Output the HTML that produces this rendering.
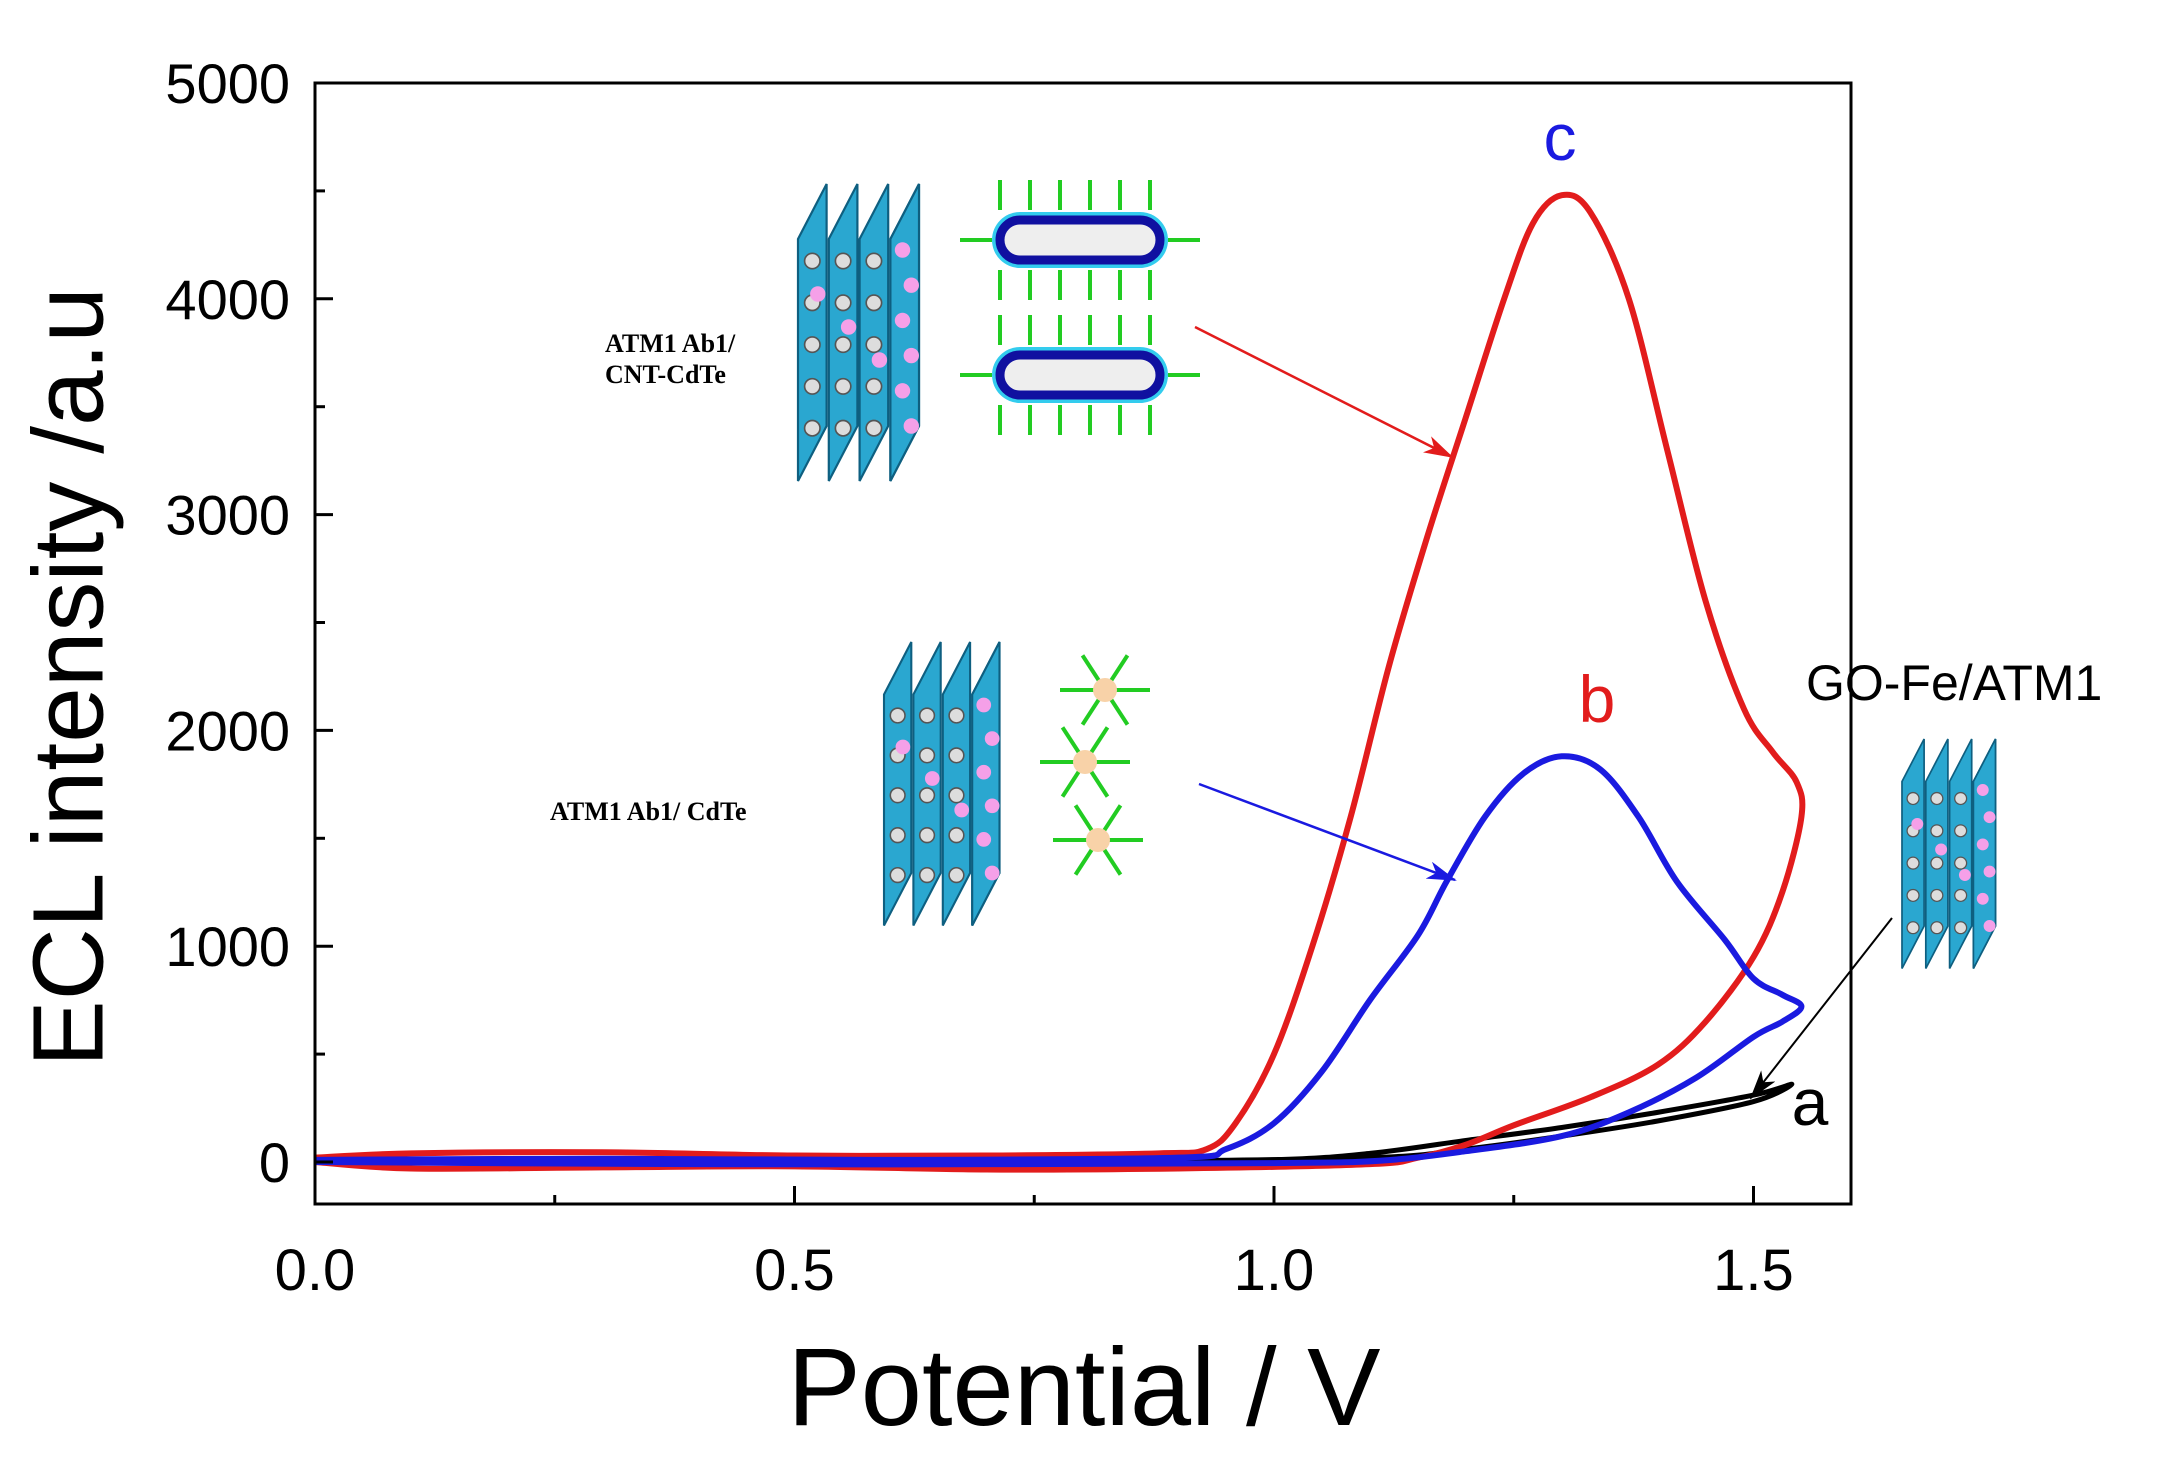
<!DOCTYPE html>
<html><head><meta charset="utf-8"><style>
html,body{margin:0;padding:0;background:#fff;}
svg{display:block;font-family:"Liberation Sans",sans-serif;}
</style></head><body>
<svg id="chart" width="2166" height="1457" viewBox="0 0 2166 1457" xmlns="http://www.w3.org/2000/svg">
<defs>
<marker id="arR" markerWidth="30" markerHeight="18" refX="28" refY="9" orient="auto" markerUnits="userSpaceOnUse"><path d="M0,0 L30,9 L0,18 L8,9 z" fill="#e21c1c"/></marker>
<marker id="arB" markerWidth="30" markerHeight="18" refX="28" refY="9" orient="auto" markerUnits="userSpaceOnUse"><path d="M0,0 L30,9 L0,18 L8,9 z" fill="#1a1ae0"/></marker>
<marker id="arK" markerWidth="30" markerHeight="18" refX="28" refY="9" orient="auto" markerUnits="userSpaceOnUse"><path d="M0,0 L30,9 L0,18 L8,9 z" fill="#000"/></marker>
<g id="slab"><polygon points="0,50 26,0 26,220 0,270" fill="#2aa7d0" stroke="#0e5f80" stroke-width="2"/></g>
</defs>
<g id="illus"></g>
<g id="series"></g>
<rect x="315" y="83" width="1536" height="1121" fill="none" stroke="#000" stroke-width="3"/>
<g id="axes"></g>
<text x="76" y="677" font-size="100" text-anchor="middle" transform="rotate(-90 76 677)" dominant-baseline="middle">ECL intensity /a.u</text>
<text x="1084" y="1425" font-size="110" text-anchor="middle">Potential / V</text>
<text x="1560" y="160" font-size="66" fill="#1a1ae0" text-anchor="middle">c</text>
<text x="1597" y="722" font-size="66" fill="#e21c1c" text-anchor="middle">b</text>
<text x="1810" y="1125" font-size="66" fill="#000" text-anchor="middle">a</text>
<text x="1806" y="700" font-size="50" fill="#000">GO-Fe/ATM1</text>
<g font-family="Liberation Serif,serif" font-weight="bold" font-size="26">
<text x="605" y="352">ATM1 Ab1/</text>
<text x="605" y="383">CNT-CdTe</text>
<text x="550" y="820">ATM1 Ab1/ CdTe</text>
</g>
<line x1="1195" y1="327" x2="1452" y2="457" stroke="#e21c1c" stroke-width="2.5" marker-end="url(#arR)"/>
<line x1="1199" y1="784" x2="1455" y2="880" stroke="#1a1ae0" stroke-width="2.5" marker-end="url(#arB)"/>
<line x1="1892" y1="918" x2="1751" y2="1098" stroke="#000" stroke-width="2" marker-end="url(#arK)"/>
</svg>
<script>
const xTicks=[0.0,0.5,1.0,1.5];
const xTickLabels=["0.0","0.5","1.0","1.5"];
const yTicks=[0,1000,2000,3000,4000,5000];
const yTickLabels=["0","1000","2000","3000","4000","5000"];
const redV=[0,0.1,0.3,0.5,0.7,0.88,0.93,0.96,1.0,1.04,1.08,1.12,1.16,1.2,1.24,1.27,1.3,1.33,1.37,1.41,1.45,1.49,1.52,1.545,1.55,1.53,1.5,1.45,1.4,1.33,1.25,1.2,1.15,1.1,0.9,0.7,0.5,0.3,0.1,0];
const redI=[20,40,45,30,30,40,60,180,500,1000,1600,2300,2900,3450,4000,4350,4480,4400,4000,3300,2600,2100,1900,1760,1600,1250,950,650,450,300,170,80,20,-10,-30,-35,-20,-25,-30,0];
const blueV=[0,0.3,0.6,0.9,0.95,1.0,1.05,1.1,1.15,1.18,1.22,1.26,1.3,1.34,1.38,1.42,1.47,1.5,1.53,1.55,1.53,1.5,1.44,1.37,1.3,1.2,1.11,1.0,0.7,0.4,0];
const blueI=[10,15,10,20,60,180,420,750,1050,1300,1600,1800,1880,1820,1600,1300,1030,850,775,720,650,580,390,230,120,50,6,-5,-10,-10,0];
const blackV=[0.8,1.0,1.1,1.2,1.3,1.4,1.5,1.54,1.5,1.4,1.3,1.2,1.1,0.8];
const blackI=[0,10,40,100,160,230,310,360,280,190,120,60,20,0];
const NS='http://www.w3.org/2000/svg';
const X=v=>315+v*959, Y=i=>1162-i*0.2158;
const axes=document.getElementById('axes');
function mk(tag,attrs,parent){const e=document.createElementNS(NS,tag);for(const k in attrs)e.setAttribute(k,attrs[k]);parent.appendChild(e);return e;}
xTicks.forEach((v,i)=>{
 const t=mk('line',{x1:X(v),x2:X(v),y1:1204,y2:1186,stroke:'#000','stroke-width':3},axes);
 
 
 if(i<xTicks.length-1){const m=mk('line',{x1:X(v+0.25),x2:X(v+0.25),y1:1204,y2:1195,stroke:'#000','stroke-width':3},axes);
 
 }
 const l=mk('text',{x:X(v),y:1290,'font-size':58,'text-anchor':'middle'},axes);l.textContent=xTickLabels[i];
 
 
});
yTicks.forEach((v,i)=>{
 const t=mk('line',{x1:315,x2:333,y1:Y(v),y2:Y(v),stroke:'#000','stroke-width':3},axes);
 
 
 if(i<yTicks.length-1){const m=mk('line',{x1:315,x2:325,y1:Y(v+500),y2:Y(v+500),stroke:'#000','stroke-width':3},axes);
 
 }
 const l=mk('text',{x:290,y:Y(v)+20,'font-size':56,'text-anchor':'end'},axes);l.textContent=yTickLabels[i];
 
 
});
function smooth(vs,is){const p=vs.map((v,i)=>[X(v),Y(is[i])]);let d='M'+p[0][0]+','+p[0][1];
 for(let i=0;i<p.length-1;i++){const p0=p[Math.max(0,i-1)],p1=p[i],p2=p[i+1],p3=p[Math.min(p.length-1,i+2)];
 d+=' C'+(p1[0]+(p2[0]-p0[0])/6)+','+(p1[1]+(p2[1]-p0[1])/6)+' '+(p2[0]-(p3[0]-p1[0])/6)+','+(p2[1]-(p3[1]-p1[1])/6)+' '+p2[0]+','+p2[1];}
 return d;}
const ser=document.getElementById('series');
const bl=mk('path',{d:smooth(blackV,blackI),fill:'none',stroke:'#000','stroke-width':5},ser);


const rd=mk('path',{d:smooth(redV,redI),fill:'none',stroke:'#e21c1c','stroke-width':6},ser);


const bu=mk('path',{d:smooth(blueV,blueI),fill:'none',stroke:'#1a1ae0','stroke-width':6},ser);


const il=document.getElementById('illus');
function stack(x,y,s,name){const g=mk('g',{transform:'translate('+x+','+y+') scale('+s+')'},il);
 
 
 for(let k=0;k<4;k++){mk('use',{href:'#slab',x:k*28,y:0},g);
  for(let j=0;j<5;j++){mk('circle',{cx:k*28+13,cy:70+j*38,r:7,fill:'#ddd',stroke:'#555','stroke-width':1.5},g);}
  mk('circle',{cx:k*28+18,cy:100+k*30,r:7,fill:'#f5a0e8'},g);}
 mk('polygon',{points:'84,50 110,0 110,220 84,270',fill:'#2aa7d0',stroke:'#0e5f80','stroke-width':2},g);
 for(let j=0;j<6;j++)mk('circle',{cx:95+(j%2)*8,cy:60+j*32,r:7,fill:'#f5a0e8'},g);}
stack(798,184,1.1,'cnt-stack-illustration');
stack(884,642,1.05,'cdte-stack-illustration');
stack(1902,739,0.85,'go-fe-stack-illustration');
function tube(x,y,name){const g=mk('g',{},il);
 
 
 mk('rect',{x:x-8,y:y-8,width:176,height:56,rx:28,fill:'#33ccee'},g);
 mk('rect',{x:x,y:y,width:160,height:40,rx:20,fill:'#eee',stroke:'#1010a0','stroke-width':9},g);
 for(let k=0;k<6;k++){mk('line',{x1:x+k*30,y1:y-10,x2:x+k*30,y2:y-40,stroke:'#22cc22','stroke-width':4},g);mk('line',{x1:x+k*30,y1:y+50,x2:x+k*30,y2:y+80,stroke:'#22cc22','stroke-width':4},g);}
 mk('line',{x1:x-40,y1:y+20,x2:x-8,y2:y+20,stroke:'#22cc22','stroke-width':4},g);
 mk('line',{x1:x+168,y1:y+20,x2:x+200,y2:y+20,stroke:'#22cc22','stroke-width':4},g);}
tube(1000,220,'cnt-tube-top');
tube(1000,355,'cnt-tube-bottom');
function dend(cx,cy,name){const g=mk('g',{},il);
 
 
 for(let a=0;a<6;a++){const t=a*Math.PI/3;mk('line',{x1:cx,y1:cy,x2:cx+45*Math.cos(t),y2:cy+40*Math.sin(t),stroke:'#22cc22','stroke-width':4},g);}
 mk('circle',{cx:cx,cy:cy,r:12,fill:'#f8d2a8'},g);}
dend(1105,690,'dendrimer-1');dend(1085,762,'dendrimer-2');dend(1098,840,'dendrimer-3');
</script>
</body></html>
